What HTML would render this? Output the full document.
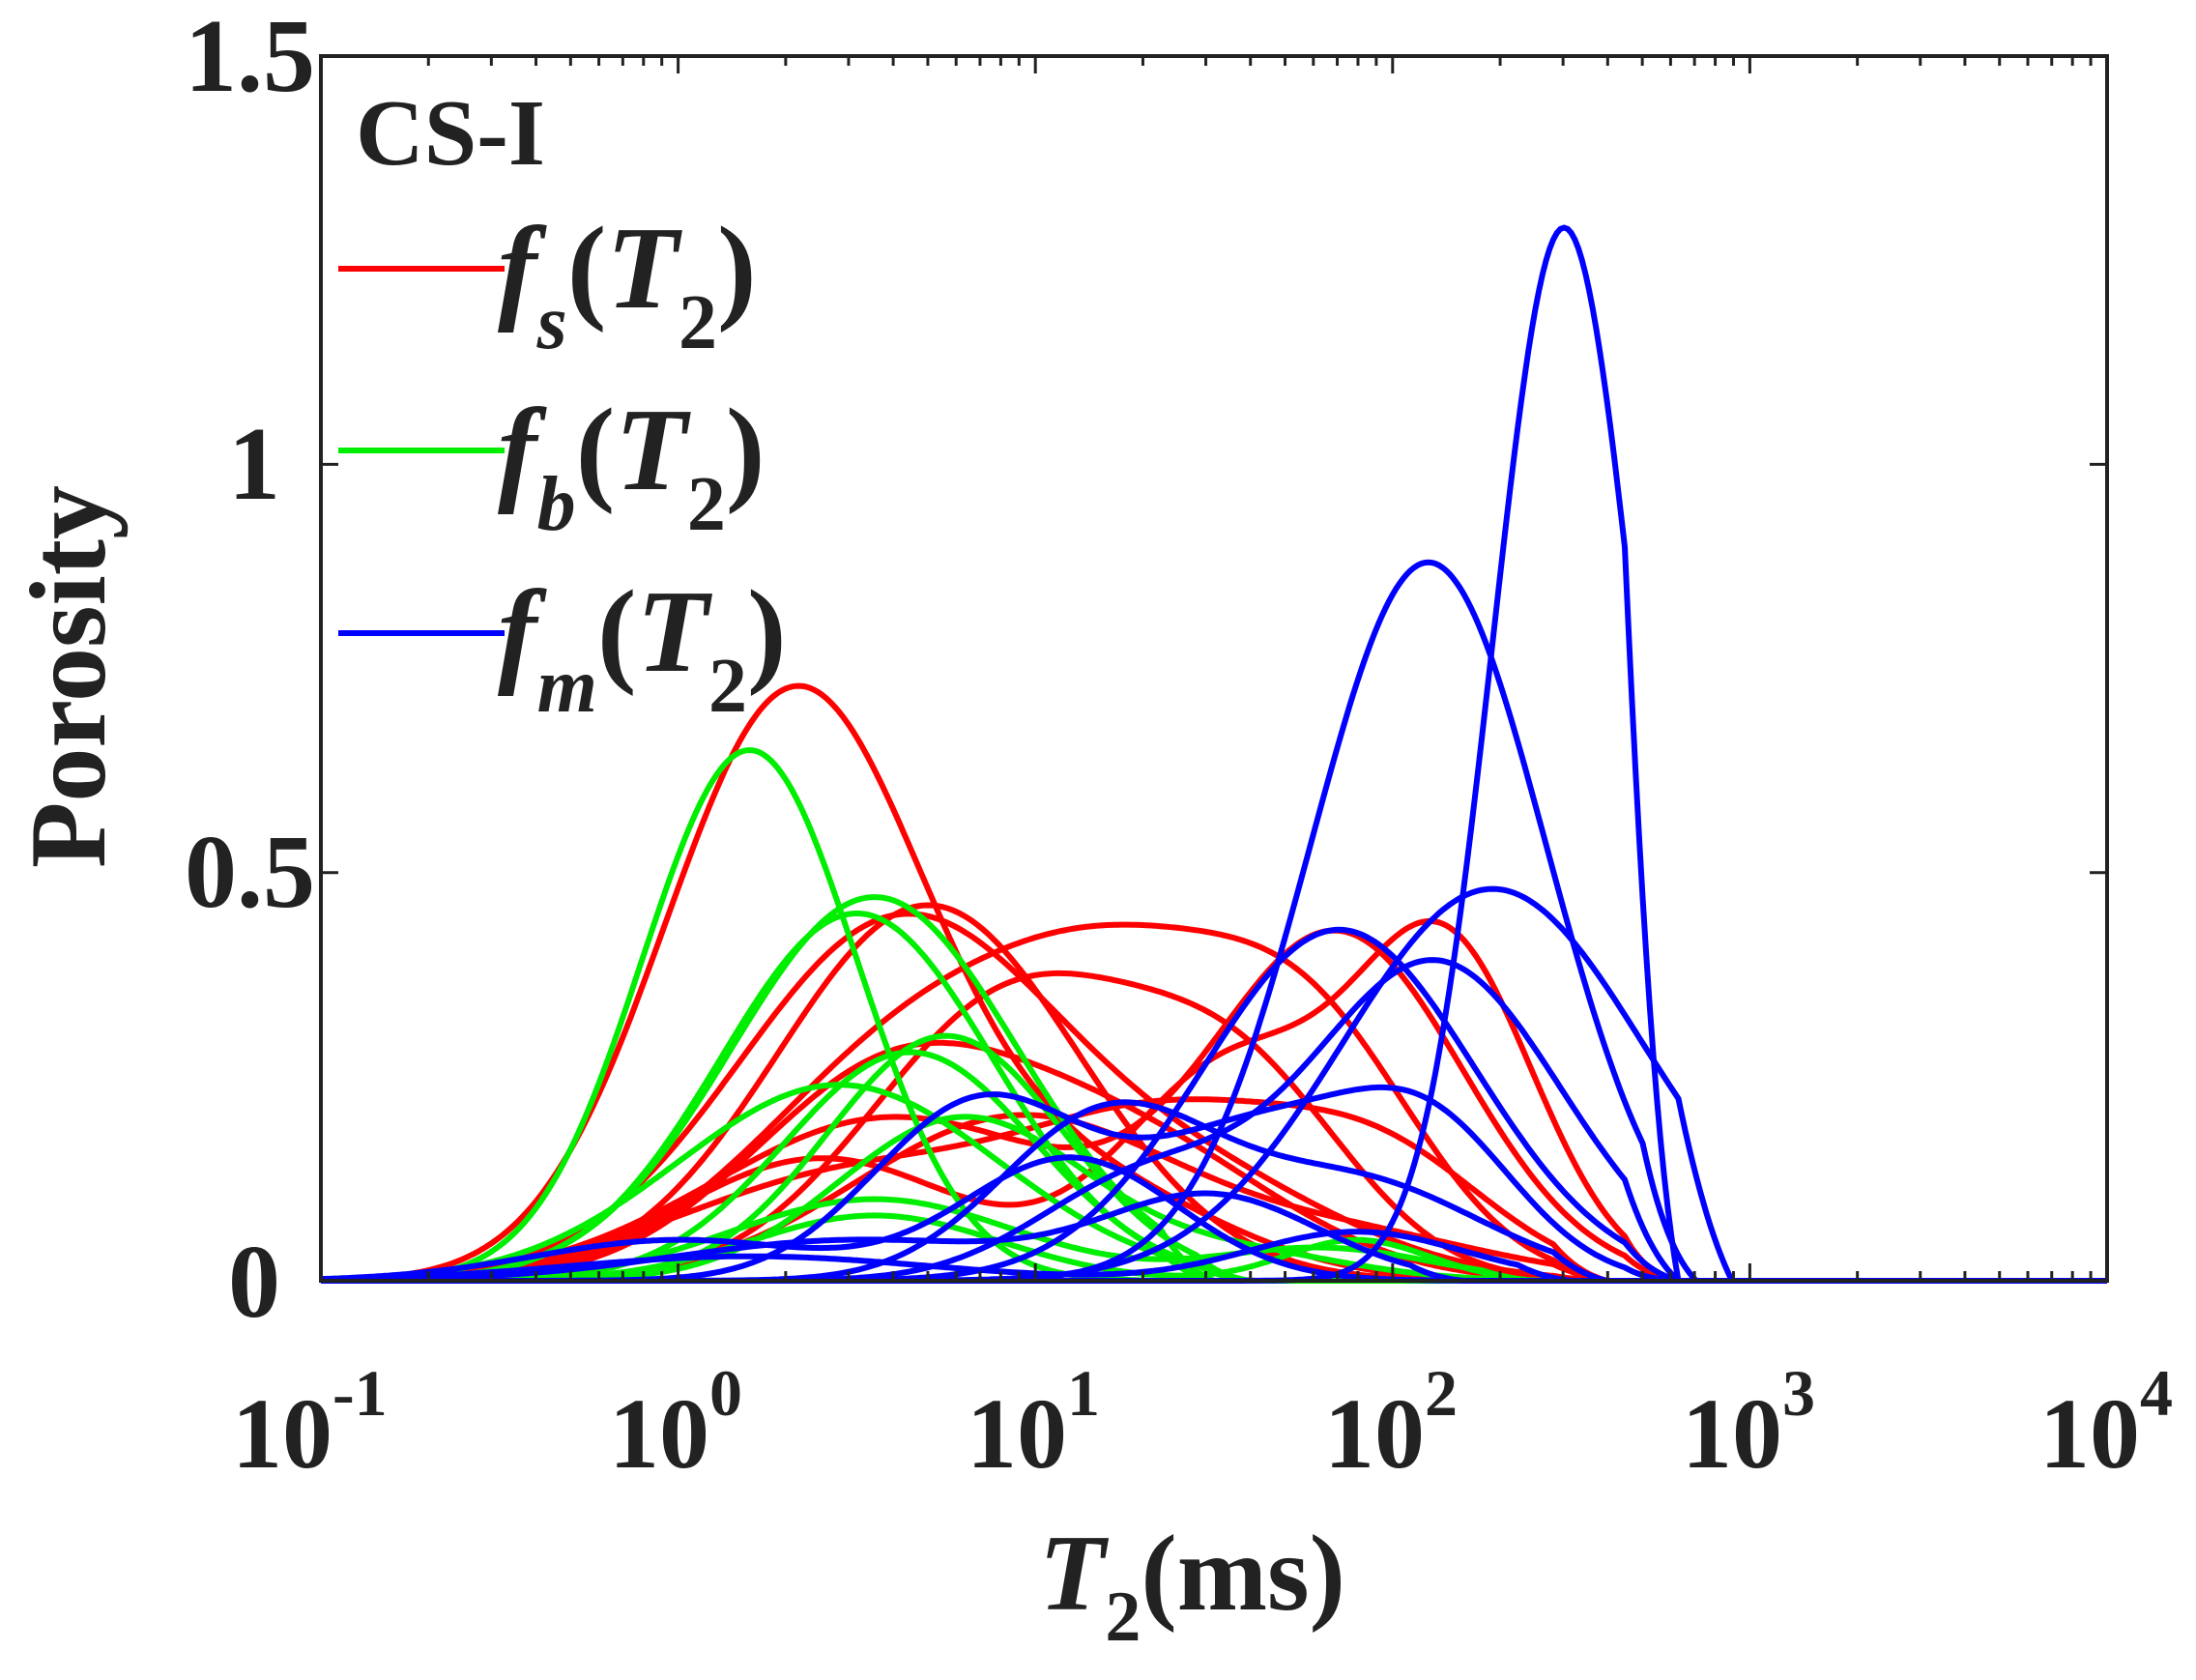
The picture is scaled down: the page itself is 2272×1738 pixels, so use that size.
<!DOCTYPE html>
<html><head><meta charset="utf-8"><style>
body{margin:0;background:#fff;}
svg text{font-family:"Liberation Serif",serif;font-weight:bold;fill:#222;}
</style></head><body>
<svg id="s" width="2272" height="1733" viewBox="0 0 2272 1733" xmlns="http://www.w3.org/2000/svg">
<rect width="2272" height="1733" fill="#fff"/>
<g id="curves" fill="none" stroke-width="6"></g>
<rect x="332" y="58" width="1848" height="1267" fill="none" stroke="#222" stroke-width="4"/>
<g id="ticks" stroke="#222" stroke-width="3"></g>
<g font-size="108" text-anchor="end">
<text x="326" y="94">1.5</text>
<text x="290" y="516">1</text>
<text x="326" y="938">0.5</text>
<text x="290" y="1362">0</text>
</g>
<g font-size="104">
<text x="240" y="1518">10<tspan dy="-54" font-size="68">-1</tspan></text>
<text x="630" y="1518">10<tspan dy="-54" font-size="68">0</tspan></text>
<text x="1000" y="1518">10<tspan dy="-54" font-size="68">1</tspan></text>
<text x="1370" y="1518">10<tspan dy="-54" font-size="68">2</tspan></text>
<text x="1740" y="1518">10<tspan dy="-54" font-size="68">3</tspan></text>
<text x="2110" y="1518">10<tspan dy="-54" font-size="68">4</tspan></text>
</g>
<text x="1075" y="1665" font-size="112"><tspan font-style="italic">T</tspan><tspan dy="32" font-size="74">2</tspan><tspan dy="-32">(ms)</tspan></text>
<text transform="translate(108,700) rotate(-90)" font-size="112" text-anchor="middle">Porosity</text>
<text x="368" y="170" font-size="98">CS-I</text>
<g stroke-width="6">
<line x1="350" y1="278" x2="522" y2="278" stroke="#ff0000"/>
<line x1="350" y1="466" x2="522" y2="466" stroke="#00ee00"/>
<line x1="350" y1="655" x2="522" y2="655" stroke="#0000ff"/>
</g>
<g font-size="122" font-style="italic">
<text x="515" y="318">f<tspan dy="42" font-size="80">s</tspan><tspan dy="-42" font-style="normal">(</tspan>T<tspan dy="42" font-size="80" font-style="normal">2</tspan><tspan dy="-42" font-style="normal">)</tspan></text>
<text x="515" y="506">f<tspan dy="42" font-size="80">b</tspan><tspan dy="-42" font-style="normal">(</tspan>T<tspan dy="42" font-size="80" font-style="normal">2</tspan><tspan dy="-42" font-style="normal">)</tspan></text>
<text x="515" y="694">f<tspan dy="42" font-size="80">m</tspan><tspan dy="-42" font-style="normal">(</tspan>T<tspan dy="42" font-size="80" font-style="normal">2</tspan><tspan dy="-42" font-style="normal">)</tspan></text>
</g>
</svg>
<script>
(function(){
var X=function(l){return 332+(l+1)*369.6;}, Y=function(p){return 1325-p*844.6;};
var t=document.getElementById('ticks'), s="";
for(var d=-1;d<4;d++)for(var k=1;k<10;k++){var x=X(d+Math.log10(k));var L=k==1?18:10;
 s+='<line x1="'+x+'" y1="1325" x2="'+x+'" y2="'+(1325-L)+'"/><line x1="'+x+'" y1="58" x2="'+x+'" y2="'+(58+L)+'"/>';}
[0.5,1].forEach(function(p){var y=Y(p);s+='<line x1="332" y1="'+y+'" x2="350" y2="'+y+'"/><line x1="2180" y1="'+y+'" x2="2162" y2="'+y+'"/>';});
t.innerHTML=s;
var R="#ff0000",G="#00ee00",B="#0000ff";
var C=[
[R,[[0.71,0.32,0.36],[0.12,1.1,0.4]],2.6],
[R,[[0.44,0.62,0.45],[0.1,1.5,0.4]],2.6],
[R,[[0.46,0.7,0.42]],2.6],
[R,[[0.35,0.95,0.4],[0.2,1.6,0.3]],2.6],
[R,[[0.3,0.7,0.45],[0.25,1.3,0.35],[0.25,1.8,0.3]],2.6],
[R,[[0.2,0.6,0.5],[0.42,1.85,0.35]],2.8],
[R,[[0.15,0.4,0.4],[0.26,1.55,0.3],[0.4,2.15,0.25]],2.8],
[R,[[0.13,0.5,0.5],[0.18,1.4,0.4],[0.12,2.0,0.3]],2.6],
[R,[[0.2,0.95,0.45],[0.05,1.9,0.4]],2.6],
[R,[[0.25,0.6,0.4],[0.15,1.3,0.4]],2.5],
[G,[[0.65,0.2,0.3]],1.4],
[G,[[0.47,0.55,0.4]],1.5],
[G,[[0.45,0.5,0.38]],1.5],
[G,[[0.3,0.75,0.33]],1.6],
[G,[[0.28,0.65,0.35]],1.6],
[G,[[0.24,0.45,0.45]],1.6],
[G,[[0.1,0.55,0.4],[0.04,1.8,0.3]],2.4],
[G,[[0.08,0.55,0.35],[0.05,1.9,0.2]],2.4],
[G,[[0.2,0.8,0.35],[0.03,1.6,0.3]],2.5],
[B,[[1.29,2.48,0.2]],2.8],
[B,[[0.88,2.1,0.33]],2.85],
[B,[[0.48,2.28,0.42]],2.95],
[B,[[0.43,1.85,0.38]],2.8],
[B,[[0.39,2.12,0.35],[0.12,1.3,0.3]],2.8],
[B,[[0.22,0.85,0.3],[0.17,1.6,0.3],[0.18,2.1,0.25]],2.8],
[B,[[0.2,1.2,0.3],[0.12,1.9,0.35]],2.6],
[B,[[0.15,1.1,0.3],[0.05,0.0,0.4]],2.3],
[B,[[0.05,0.5,0.5],[0.1,1.5,0.3]],2.2],
[B,[[0.03,0.2,0.5],[0.06,1.9,0.3]],2.5]
];
var g=document.getElementById('curves'),h="";
C.forEach(function(c){var d="";for(var l=-1;l<=4.0001;l+=0.01){var p=0;
 c[1].forEach(function(q){p+=q[0]*Math.exp(-0.5*Math.pow((l-q[1])/q[2],2));});
 if(l>c[2])p=0; else if(l>c[2]-0.15)p*=(c[2]-l)/0.15;
 d+=(d?"L":"M")+X(l).toFixed(1)+","+Y(p).toFixed(1);}
 h+='<path d="'+d+'" stroke="'+c[0]+'"/>';});
g.innerHTML=h;
})();
</script>
</body></html>
